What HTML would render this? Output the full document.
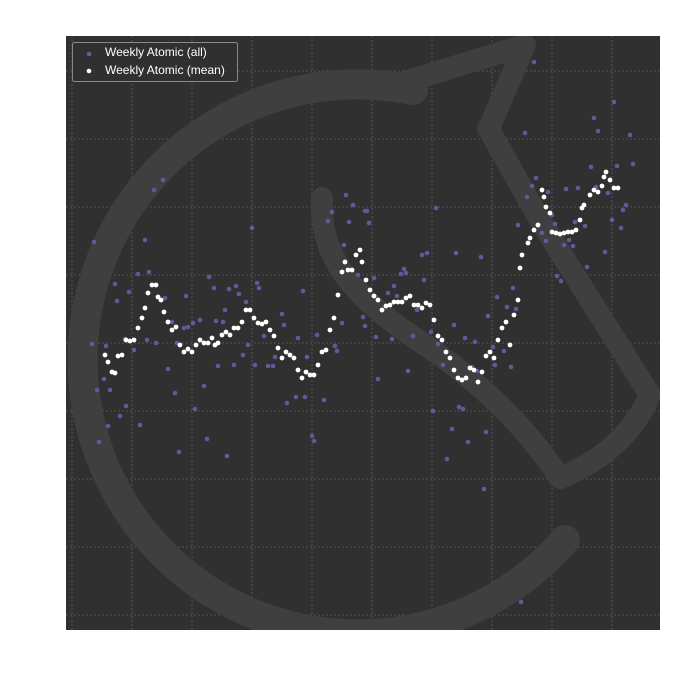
<!DOCTYPE html>
<html><head><meta charset="utf-8"><style>
html,body{margin:0;padding:0;background:#fff;}
svg{display:block;font-family:"Liberation Sans",sans-serif;}
</style></head><body>
<svg id="chart" width="700" height="700" viewBox="0 0 700 700">
<defs><clipPath id="plotclip"><rect x="66" y="36" width="594" height="594"/></clipPath></defs>
<rect x="66" y="36" width="594" height="594" fill="#303030"/>
<g id="grid"></g>
<g fill="none" stroke="#3f3f3f" stroke-linejoin="round" clip-path="url(#plotclip)">
<path d="M565,540 A275,275 0 1 1 413,90" stroke-width="30" stroke-linecap="round"/>
<path d="M405,82 L525,45 L488,130" stroke-width="22" stroke-linecap="butt"/>
<path d="M322,198 C318,265 365,305 425,345 C480,382 525,425 560,478 C605,460 635,430 650,395 L540,220 L488,128" stroke-width="22" stroke-linecap="round"/>
</g>
<g id="allpts"></g>
<g id="meanpts"></g>
<g>
<rect x="72.5" y="42.5" width="165" height="39" rx="2" fill="#303030" fill-opacity="0.85" stroke="#8a8a8a" stroke-width="1"/>
<circle cx="89" cy="54" r="2.3" fill="#6a5a9a"/>
<text x="105" y="56" font-size="12" fill="#ffffff">Weekly Atomic (all)</text>
<circle cx="89" cy="71" r="2.3" fill="#ffffff"/>
<text x="105" y="74" font-size="12" fill="#ffffff">Weekly Atomic (mean)</text>
</g>
</svg>
<script>
const gridX = [72,132,192,252,312,372,432,492,552,612];
const gridY = [71,139,207,275,343,411,479,547,615];
const allX = [163,154,94,145,252,138,149,115,129,117,209,214,229,236,239,257,259,246,186,165,225,282,284,303,172,184,188,193,200,216,223,92,106,125,134,147,156,177,248,264,298,317,335,337,342,243,275,307,218,234,255,268,273,168,104,110,97,204,175,126,120,195,287,296,305,324,108,140,99,207,179,227,312,314,346,353,332,328,349,344,358,365,534,614,594,598,630,525,591,617,633,536,532,527,548,566,578,596,608,626,623,612,621,605,587,518,552,555,542,546,564,569,573,575,585,436,367,369,422,427,456,481,404,406,401,374,424,394,388,397,513,497,557,561,507,516,488,454,417,363,365,376,392,413,431,438,465,475,493,504,495,511,443,472,477,408,378,433,459,463,452,486,468,447,484,521];
const allY = [180,190,242,240,228,274,272,284,292,301,277,288,289,286,294,283,288,302,296,298,310,314,325,291,322,328,327,323,320,321,322,344,346,339,350,340,343,343,345,336,338,335,346,351,323,355,357,357,366,365,365,366,366,369,379,390,390,386,393,406,416,409,403,397,397,400,426,425,442,439,452,456,436,441,195,205,212,221,222,245,275,211,62,102,118,131,135,133,167,166,164,178,186,197,192,189,188,187,193,205,210,220,228,252,267,225,215,224,233,241,245,240,246,222,226,208,211,223,255,253,253,257,269,273,274,278,280,286,293,296,288,297,276,281,307,309,316,325,310,317,326,337,339,336,332,344,338,342,347,351,365,367,365,367,371,371,379,411,407,409,429,432,442,459,489,602];
const meanX = [105,108,112,115,118,122,126,130,134,138,142,145,148,152,156,158,161,164,168,172,176,180,184,188,192,196,200,204,208,212,215,218,222,226,230,234,238,242,246,250,254,258,262,266,270,274,278,282,286,290,294,298,302,306,310,314,318,322,326,330,334,338,342,345,348,352,356,360,362,366,370,374,378,382,386,390,394,398,402,406,410,414,418,422,426,430,434,438,442,446,450,454,458,462,466,470,474,478,482,486,490,494,498,502,506,510,514,518,520,522,528,530,534,538,542,544,546,550,552,556,560,564,568,572,576,580,582,584,590,594,598,602,604,606,610,614,618];
const meanY = [355,362,372,373,356,355,340,341,340,328,318,308,293,285,285,297,300,312,322,330,327,345,352,349,352,345,340,343,343,338,345,343,335,332,335,328,328,322,310,310,318,323,324,322,330,336,348,358,352,355,358,370,378,372,375,375,365,352,350,330,318,295,272,262,270,270,255,250,262,280,290,296,300,310,306,305,302,302,302,298,296,305,305,308,303,305,320,336,340,352,358,370,378,380,378,368,370,382,372,356,352,358,340,328,322,345,315,300,268,255,243,238,230,225,190,197,207,213,232,233,234,233,232,232,230,220,208,205,195,190,192,186,177,172,180,188,188];

const NS = "http://www.w3.org/2000/svg";
const X0 = 66, X1 = 660, Y0 = 630, Y1 = 36;
function xScale(v){ return X0 + (v - 66) * (X1 - X0) / 594; }
function yScale(v){ return Y1 + (v - 36) * (Y0 - Y1) / 594; }

const grid = document.getElementById('grid');
gridX.forEach(v => {
  const l = document.createElementNS(NS, 'line');
  
  
  l.setAttribute('x1', xScale(v)); l.setAttribute('x2', xScale(v));
  l.setAttribute('y1', Y1); l.setAttribute('y2', Y0);
  l.setAttribute('stroke', '#5e5e5e'); l.setAttribute('stroke-width', '0.8');
  l.setAttribute('stroke-dasharray', '2,2');
  grid.appendChild(l);
});
gridY.forEach(v => {
  const l = document.createElementNS(NS, 'line');
  
  
  l.setAttribute('y1', yScale(v)); l.setAttribute('y2', yScale(v));
  l.setAttribute('x1', X0); l.setAttribute('x2', X1);
  l.setAttribute('stroke', '#5e5e5e'); l.setAttribute('stroke-width', '0.8');
  l.setAttribute('stroke-dasharray', '2,2');
  grid.appendChild(l);
});
const ga = document.getElementById('allpts');
allX.forEach((v, i) => {
  const c = document.createElementNS(NS, 'circle');
  
  
  c.setAttribute('cx', xScale(v)); c.setAttribute('cy', yScale(allY[i]));
  c.setAttribute('r', '2.3'); c.setAttribute('fill', '#65589a');
  ga.appendChild(c);
});
const gm = document.getElementById('meanpts');
meanX.forEach((v, i) => {
  const c = document.createElementNS(NS, 'circle');
  
  
  c.setAttribute('cx', xScale(v)); c.setAttribute('cy', yScale(meanY[i]));
  c.setAttribute('r', '2.4'); c.setAttribute('fill', '#ffffff');
  gm.appendChild(c);
});
</script>
</body></html>
